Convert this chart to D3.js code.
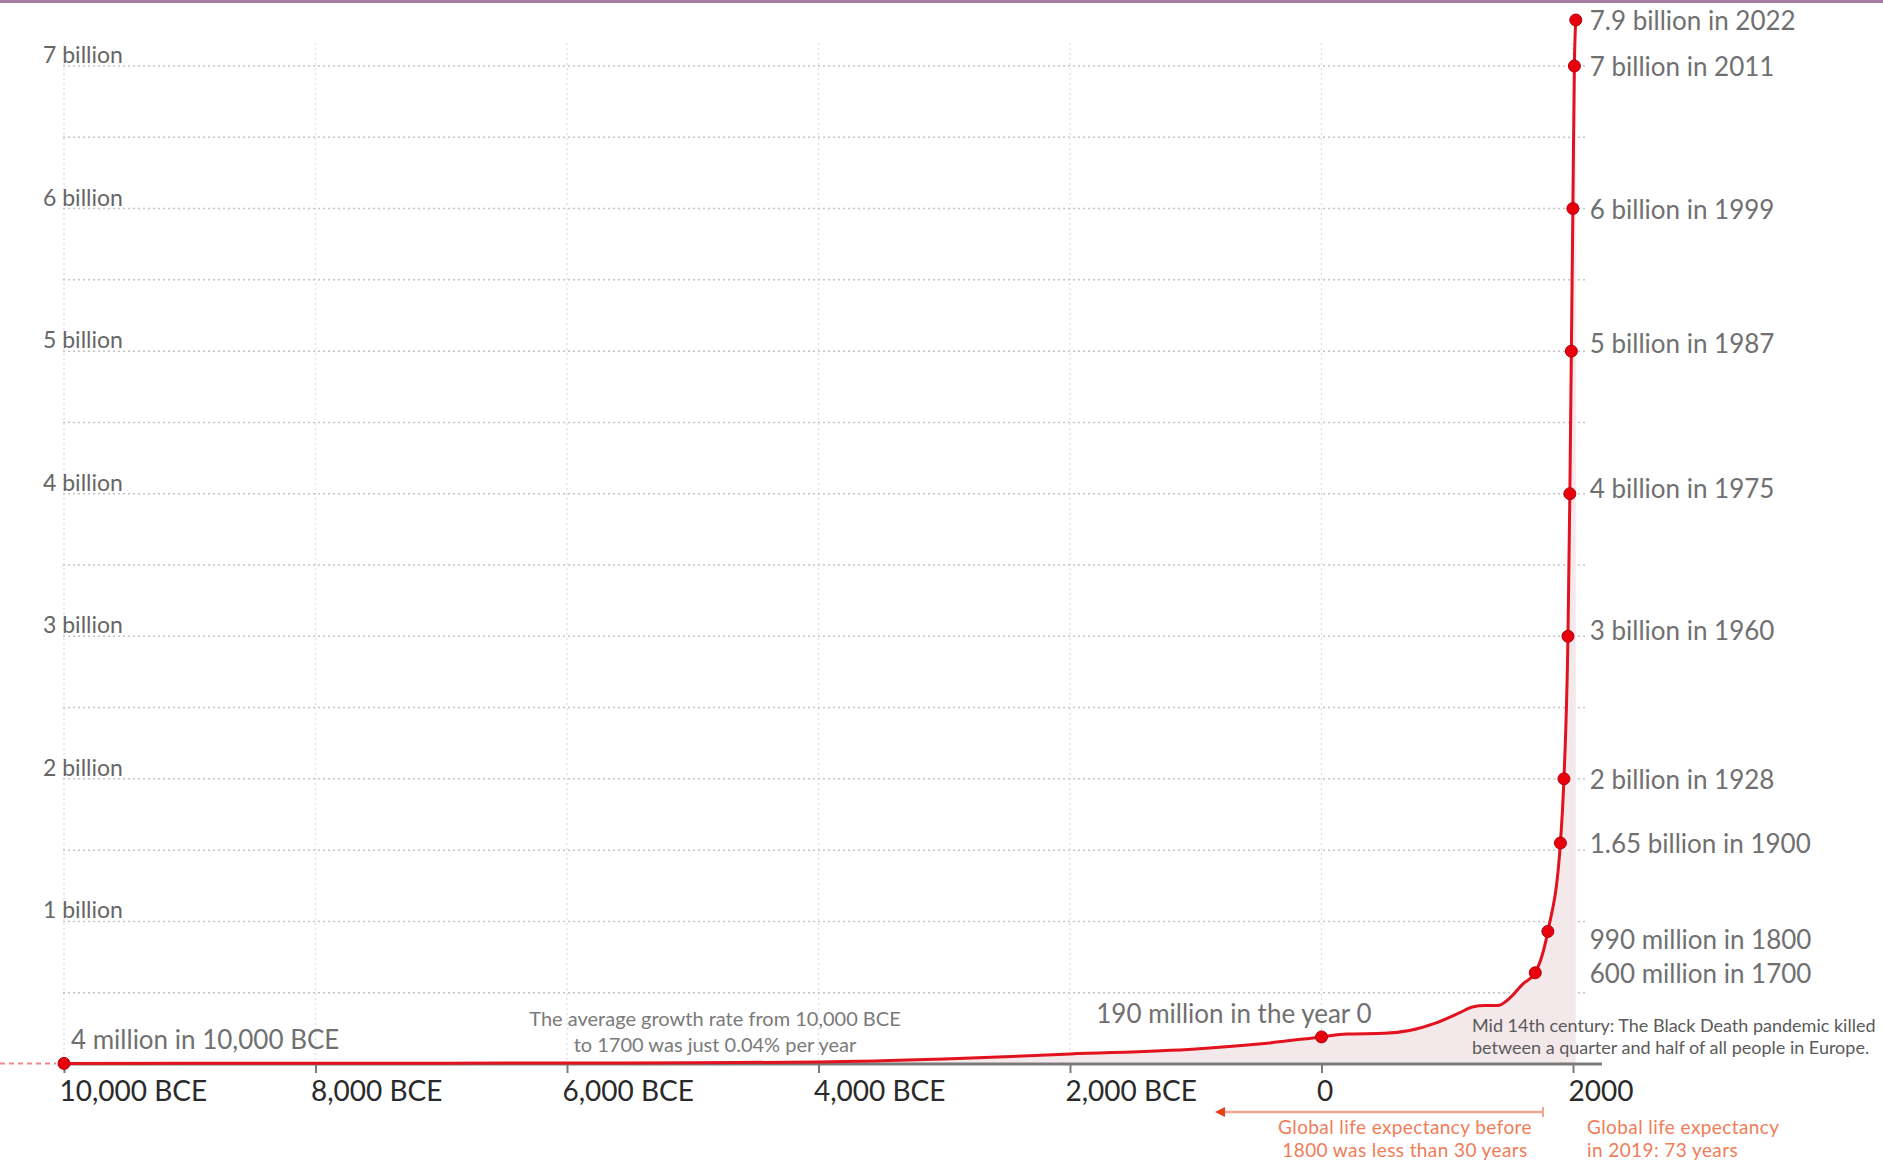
<!DOCTYPE html>
<html>
<head>
<meta charset="utf-8">
<script src="https://cdn.jsdelivr.net/npm/d3@7"></script>
<style>
  html, body { margin: 0; padding: 0; background: #fff; }
  svg { display: block; font-family: Lato, "Open Sans", sans-serif; }
</style>
</head>
<body>
<svg id="chart" width="1883" height="1168"></svg>
<script>
// ---------- DATA ----------
const xTickYears  = [-10000, -8000, -6000, -4000, -2000, 0, 2000];
const xTickLabels = ["10,000 BCE", "8,000 BCE", "6,000 BCE", "4,000 BCE", "2,000 BCE", "0", "2000"];

const yTickValues = [1, 2, 3, 4, 5, 6, 7];            // billions
const yTickLabels = ["1 billion", "2 billion", "3 billion", "4 billion", "5 billion", "6 billion", "7 billion"];
const yGridValues = [0.5, 1, 1.5, 2, 2.5, 3, 3.5, 4, 4.5, 5, 5.5, 6, 6.5, 7];

// world population curve (billions)
const years      = [-10000, -8000, -6000, -5000, -4000, -3000, -2000, -1000, -500, 0, 200, 500, 700, 900, 1100, 1200, 1300, 1400, 1500, 1600, 1700, 1800, 1900, 1928, 1960, 1975, 1987, 1999, 2011, 2022];
const population = [0.004, 0.005, 0.007, 0.009, 0.014, 0.035, 0.07, 0.105, 0.14, 0.19, 0.21, 0.215, 0.235, 0.285, 0.36, 0.4, 0.41, 0.41, 0.465, 0.56, 0.64, 0.93, 1.55, 2.0, 3.0, 4.0, 5.0, 6.0, 7.0, 7.9];

const milestoneYears  = [2022, 2011, 1999, 1987, 1975, 1960, 1928, 1900, 1800, 1700];
const milestoneLabels = ["7.9 billion in 2022", "7 billion in 2011", "6 billion in 1999", "5 billion in 1987",
                         "4 billion in 1975", "3 billion in 1960", "2 billion in 1928", "1.65 billion in 1900",
                         "990 million in 1800", "600 million in 1700"];

const startLabel = "4 million in 10,000 BCE";
const yearZeroLabel = "190 million in the year 0";
const growthNote = ["The average growth rate from 10,000 BCE", "to 1700 was just 0.04% per year"];
const blackDeathNote = ["Mid 14th century: The Black Death pandemic killed", "between a quarter and half of all people in Europe."];
const lifeBefore = ["Global life expectancy before", "1800 was less than 30 years"];
const lifeNow = ["Global life expectancy", "in 2019: 73 years"];

// ---------- CHART ----------
const svg = d3.select("#chart");
const series = years.map((y, i) => ({ year: y, pop: population[i] }));
const popAt = yr => series.find(d => d.year === yr).pop;

const x = d3.scaleLinear().domain([-10000, 2000]).range([64, 1573]);
const y = d3.scaleLinear().domain([0, 7, 7.9]).range([1064, 66, 20]);

const red = "#e2121e";
const gridLeft = 63, gridRight = 1587;

// top border
svg.append("rect").attr("x", 0).attr("y", 0).attr("width", 1883).attr("height", 3).attr("fill", "#a77a9f");

// vertical grid
svg.append("g").selectAll("line").data(xTickYears).join("line")
  .attr("x1", d => x(d)).attr("x2", d => x(d))
  .attr("y1", 43).attr("y2", y(0))
  .attr("stroke", "#e4e4e4").attr("stroke-width", 1.5).attr("stroke-dasharray", "2,3");

// horizontal grid
svg.append("g").selectAll("line").data(yGridValues).join("line")
  .attr("x1", gridLeft).attr("x2", gridRight)
  .attr("y1", d => y(d)).attr("y2", d => y(d))
  .attr("stroke", "#c4c4c4").attr("stroke-width", 1.5).attr("stroke-dasharray", "2,3");

// y labels
svg.append("g").selectAll("text").data(yTickValues).join("text")
  .attr("x", 43).attr("y", d => y(d) - 3)
  .attr("font-size", 23).attr("fill", "#666")
  .text((d, i) => yTickLabels[i]);

// area
const area = d3.area().x(d => x(d.year)).y0(y(0)).y1(d => y(d.pop)).curve(d3.curveMonotoneX);
svg.append("path").datum(series).attr("d", area).attr("fill", "#f3e8ea");

// x axis
const xAxis = d3.axisBottom(x).tickValues(xTickYears).tickFormat((d, i) => xTickLabels[i]).tickSize(9).tickPadding(8);
const gx = svg.append("g").attr("transform", `translate(0,${y(0)})`).call(xAxis);
gx.select(".domain").attr("d", `M60,0H1602`).attr("stroke", "#7a7a7a").attr("stroke-width", 3);
gx.selectAll(".tick line").attr("stroke", "#7a7a7a").attr("stroke-width", 2);
gx.selectAll(".tick text").attr("text-anchor", "start").attr("dx", -5)
  .attr("font-size", 28).attr("fill", "#2a2a2a").attr("font-family", "Lato, sans-serif");

// dashed lead-in
svg.append("line").attr("x1", 0).attr("x2", x(-10000) - 8).attr("y1", y(0.004)).attr("y2", y(0.004))
  .attr("stroke", "#ef8a8a").attr("stroke-width", 2).attr("stroke-dasharray", "5,4");

// line
const line = d3.line().x(d => x(d.year)).y(d => y(d.pop)).curve(d3.curveMonotoneX);
svg.append("path").datum(series).attr("d", line).attr("fill", "none").attr("stroke", red).attr("stroke-width", 3);

// dots
const dotYears = [-10000, 0].concat(milestoneYears);
svg.append("g").selectAll("circle").data(dotYears).join("circle")
  .attr("cx", d => x(d)).attr("cy", d => y(popAt(d))).attr("r", 6)
  .attr("fill", "#e8000c").attr("stroke", "#b0000e").attr("stroke-width", 1);

// milestone labels
const labelNudge = { 1987: -8, 1975: -6, 1960: -6, 1800: 8 };
svg.append("g").selectAll("text").data(milestoneYears).join("text")
  .attr("x", x(2022) + 14)
  .attr("y", d => y(popAt(d)) + (labelNudge[d] || 0))
  .attr("dominant-baseline", "central")
  .attr("font-size", 26).attr("fill", "#707070")
  .text((d, i) => milestoneLabels[i]);

svg.append("text").attr("x", x(-10000) + 7).attr("y", y(0.004) - 24)
  .attr("dominant-baseline", "central").attr("font-size", 26).attr("fill", "#707070").text(startLabel);

svg.append("text").attr("x", x(0) + 50).attr("y", y(popAt(0)) - 24).attr("text-anchor", "end")
  .attr("dominant-baseline", "central").attr("font-size", 26).attr("fill", "#707070").text(yearZeroLabel);

// growth note
svg.append("g").selectAll("text").data(growthNote).join("text")
  .attr("x", 715).attr("y", (d, i) => 1018 + i * 26).attr("text-anchor", "middle")
  .attr("dominant-baseline", "central").attr("font-size", 20).attr("fill", "#7a7a7a").text(d => d);

// black death note
svg.append("g").selectAll("text").data(blackDeathNote).join("text")
  .attr("x", 1472).attr("y", (d, i) => 1025 + i * 22)
  .attr("dominant-baseline", "central").attr("font-size", 18).attr("fill", "#5a5a5a").text(d => d);

// life expectancy annotations
const orange = "#f07c58";
svg.append("line").attr("x1", 1222).attr("x2", 1543).attr("y1", 1112).attr("y2", 1112)
  .attr("stroke", "#f4a68c").attr("stroke-width", 2.5);
svg.append("line").attr("x1", 1543).attr("x2", 1543).attr("y1", 1107).attr("y2", 1117)
  .attr("stroke", "#f4a68c").attr("stroke-width", 2);
svg.append("path").attr("d", "M1215,1112 L1225,1107 L1225,1117 Z").attr("fill", "#e8401a");

svg.append("g").selectAll("text").data(lifeBefore).join("text")
  .attr("x", 1405).attr("y", (d, i) => 1126 + i * 23).attr("text-anchor", "middle")
  .attr("dominant-baseline", "central").attr("font-size", 19).attr("letter-spacing", 0.4)
  .attr("fill", orange).text(d => d);

svg.append("g").selectAll("text").data(lifeNow).join("text")
  .attr("x", 1587).attr("y", (d, i) => 1126 + i * 23)
  .attr("dominant-baseline", "central").attr("font-size", 19).attr("letter-spacing", 0.4)
  .attr("fill", orange).text(d => d);
</script>
</body>
</html>
